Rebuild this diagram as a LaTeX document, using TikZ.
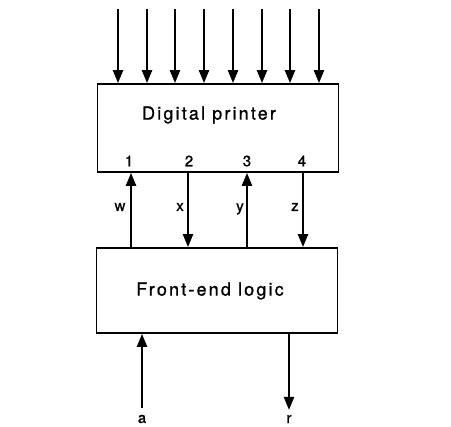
\documentclass[tikz,border=0pt]{standalone}
\usepackage{fontspec}
\setmainfont{TeX Gyre Heros}
\usetikzlibrary{arrows.meta}
\begin{document}
\begin{tikzpicture}[x=1pt,y=-1pt,
  boxst/.style={draw,line width=1.7pt,minimum width=241pt,inner sep=0pt},
  sig/.style={line width=2.2pt,-{Triangle[width=10pt,length=13pt]}},
  lbl/.style={font=\fontsize{15}{15}\selectfont\addfontfeature{LetterSpace=6,FakeBold=1.2}},
  nm/.style={font=\fontsize{18}{18}\selectfont\addfontfeature{LetterSpace=12,FakeBold=1}}]
\useasboundingbox (0,0) rectangle (451,427);
\node[boxst,minimum height=88pt] (dp) at (218,128) {};
\node[boxst,minimum height=85pt] (fe) at (217,290.5) {};
\node[nm] (dpt) at (209,115) {Digital printer};
\node[nm] (fet) at (210,291) {Front-end logic};
% top inputs
\foreach \i/\xx in {1/118,2/147,3/175,4/204,5/233,6/262,7/290,8/319}{
  \coordinate (in\i) at (\xx,9);
  \draw[sig] (in\i) -- (in\i |- dp.north);
}
% port labels
\node[lbl] (p1) at (129,161) {1};
\node[lbl] (p2) at (189,161) {2};
\node[lbl] (p3) at (247,161) {3};
\node[lbl] (p4) at (302,161) {4};
\coordinate (c1) at (131,0);
\coordinate (c2) at (188,0);
\coordinate (c3) at (247,0);
\coordinate (c4) at (303,0);
\draw[sig] (c1 |- fe.north) -- (c1 |- dp.south);
\draw[sig] (c2 |- dp.south) -- (c2 |- fe.north);
\draw[sig] (c3 |- fe.north) -- (c3 |- dp.south);
\draw[sig] (c4 |- dp.south) -- (c4 |- fe.north);
\node[lbl] (w) at (120,207) {w};
\node[lbl] (x) at (180,207) {x};
\node[lbl] (y) at (240,209) {y};
\node[lbl] (z) at (295,207) {z};
% bottom
\coordinate (ca) at (142,408);
\coordinate (cr) at (289,410);
\draw[sig] (ca) -- (ca |- fe.south);
\draw[sig] (cr |- fe.south) -- (cr);
\node[lbl] (a) at (142,419) {a};
\node[lbl] (r) at (289,419) {r};
\end{tikzpicture}
\end{document}
